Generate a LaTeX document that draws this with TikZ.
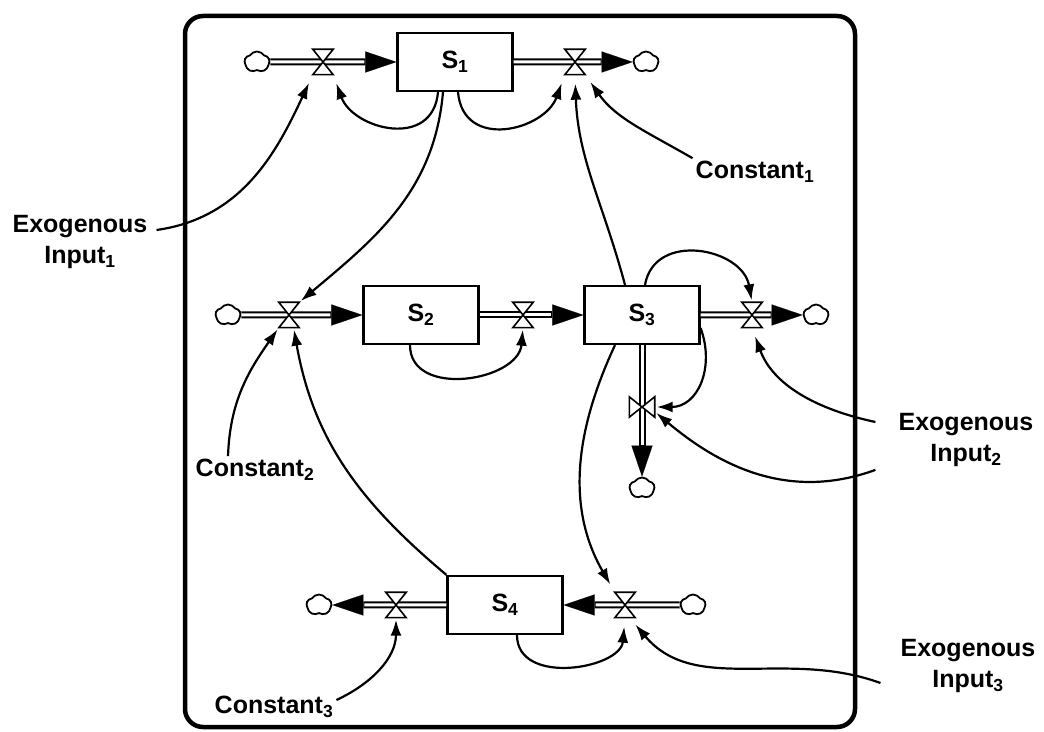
\documentclass[tikz,border=0pt]{standalone}
\usepackage{fontspec}
\setmainfont{Liberation Sans}
\usetikzlibrary{arrows.meta,shapes.symbols}

\begin{document}
\begin{tikzpicture}[
  x=1pt,y=1pt,
  font=\fontsize{25}{31}\selectfont\bfseries,
  stock/.style={draw,line width=2.2pt,minimum width=115pt,minimum height=58pt,inner sep=0pt},
  valve/.style={minimum width=20pt,minimum height=25pt,inner sep=0pt},
  vvalve/.style={minimum width=25pt,minimum height=20pt,inner sep=0pt},
  source/.style={cloud,cloud puffs=5,cloud puff arc=115,aspect=1.15,draw,line width=1.8pt,
    minimum width=25pt,minimum height=21pt,inner sep=0pt},
  pipe/.style={line width=7pt,-{Triangle[length=31pt,width=21pt,line width=0.1pt]},
    postaction={draw=white,line width=3pt,-,shorten >=32pt}},
  influence/.style={line width=2.2pt,-{Latex[length=16pt,width=11pt]},shorten >=2pt},
  farend/.style={shorten >=9pt},
  note/.style={align=center,inner sep=3pt}
]
\useasboundingbox (0,0) rectangle (1044,731);
\draw[line width=4.5pt,rounded corners=18pt] (185,4) rectangle (855,715);

% stocks
\node[stock] (s1) at (455,669) {S\textsubscript{1}};
\node[stock] (s2) at (421,416) {S\textsubscript{2}};
\node[stock] (s3) at (642,416) {S\textsubscript{3}};
\node[stock] (s4) at (505,126) {S\textsubscript{4}};

% valves
\node[valve] (v1) at (323,669) {};
\node[valve] (v2) at (575,669) {};
\node[valve] (v3) at (289,416) {};
\node[valve] (v4) at (523,416) {};
\node[valve] (v5) at (752,416) {};
\node[vvalve] (v6) at (642,324) {};
\node[valve] (v7) at (396,126) {};
\node[valve] (v8) at (625,126) {};

% sources and sinks
\node[source] (c1) at (257,669) {};
\node[source] (c2) at (646,669) {};
\node[source] (c3) at (228,416) {};
\node[source] (c5) at (816,416) {};
\node[source] (c6) at (642,243) {};
\node[source] (c7) at (319,126) {};
\node[source] (c8) at (693,126) {};

% outside variables
\node[note] (ex1) at (80,489) {Exogenous\\Input\textsubscript{1}};
\node[note] (ex2) at (966,291) {Exogenous\\Input\textsubscript{2}};
\node[note] (ex3) at (968,65) {Exogenous\\Input\textsubscript{3}};
\node[note] (k1) at (755,559) {Constant\textsubscript{1}};
\node[note] (k2) at (255,261) {Constant\textsubscript{2}};
\node[note] (k3) at (274,24) {Constant\textsubscript{3}};

% flows
\foreach \a/\b in {c1/s1,s1/c2,c3/s2,s2/s3,s3/c5,s3/c6,s4/c7,c8/s4}
  {\draw[pipe] (\a) -- (\b);}
\foreach \v in {v1,v2,v3,v4,v5,v7,v8}
  {\draw[line width=1.6pt,fill=white] (\v.north west) -- (\v.north east) -- (\v.south west) -- (\v.south east) -- cycle;}
\draw[line width=1.6pt,fill=white] (v6.north west) -- (v6.south west) -- (v6.north east) -- (v6.south east) -- cycle;

% information links
\draw[influence,farend] ([xshift=6pt,yshift=12pt]ex1.east) to[out=8,in=-115] (v1.south west);
\draw[influence,farend] ([xshift=-17pt]s1.south) to[out=-95,in=-70,looseness=1.4] (v1.south east);
\draw[influence,farend] ([xshift=3pt]s1.south) to[out=-85,in=-110,looseness=1.4] (v2.south west);
\draw[influence] ([xshift=-12pt]s1.south) to[out=-95,in=40] (v3.north east);
\draw[influence,farend] ([xshift=-17pt]s3.north) to[out=105,in=-88] (v2.south);
\draw[influence,farend] (k1.north west) to[out=150,in=-55] (v2.south east);
\draw[influence] ([xshift=3pt]s3.north) to[out=80,in=100,looseness=1.3] (v5.north);
\draw[influence] ([xshift=-11pt]s2.south) to[out=-90,in=-95,looseness=1.2] (v4.south);
\draw[influence] ([xshift=-27pt]k2.north) to[out=88,in=-125] (v3.south west);
\draw[influence] (s4.north west) to[out=140,in=-80] (v3.-70);
\draw[influence] ([yshift=-13pt]s3.east) to[out=-70,in=0,looseness=1.2] (v6.east);
\draw[influence,farend] ([xshift=-20pt,yshift=18pt]ex2.west) to[out=168,in=-70] (v5.south);
\draw[influence] ([xshift=-20pt]ex2.south west) to[out=200,in=-40] (v6.-20);
\draw[influence,farend] ([xshift=-27pt]s3.south) to[out=-115,in=120] (v8.north west);
\draw[influence,farend] ([xshift=-17pt,yshift=-17pt]ex3.west) to[out=160,in=-50] (v8.-70);
\draw[influence,farend] ([xshift=12pt]s4.south) to[out=-90,in=-95,looseness=1.2] (v8.south);
\draw[influence] ([yshift=7pt]k3.east) to[out=25,in=-90] (v7.south);
\end{tikzpicture}
\end{document}
